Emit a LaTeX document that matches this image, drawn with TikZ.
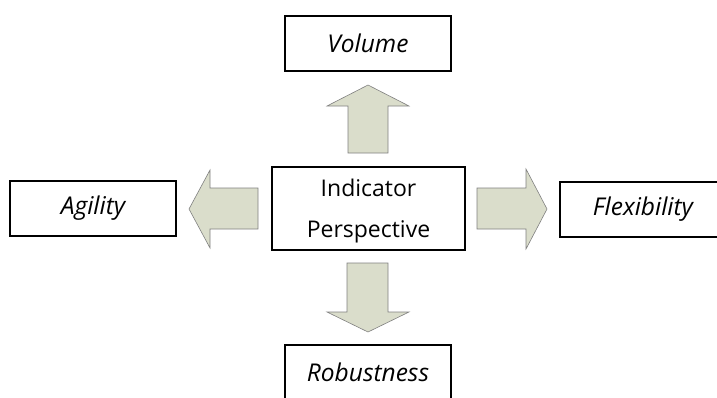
\documentclass[tikz,border=0pt]{standalone}
\usepackage{fontspec}
\setmainfont{Open Sans}
\begin{document}
\begin{tikzpicture}[x=1pt,y=-1pt,
  labelbox/.style={draw=black,line width=1.6pt,fill=white,minimum width=166pt,minimum height=55pt,inner sep=0pt,
    font=\fontsize{24.5}{28}\selectfont\itshape},
  blockarrow/.style={draw=black!50,line width=0.6pt,fill=arrowfill,line join=miter}]
\definecolor{arrowfill}{RGB}{218,221,203}
\useasboundingbox (0,0) rectangle (717,397);

% outer boxes
\node[labelbox] (volume) at (368,43.5) {Volume};
\node[labelbox] (agility) at (93,208.5) {Agility};
\node[labelbox] (flex) at (643,209.5) {Flexibility};
\node[labelbox] (robust) at (368,372.5) {Robustness};

% centre box
\node[draw=black,line width=1.6pt,minimum width=193pt,minimum height=83pt,inner sep=0pt,
  font=\fontsize{23}{41}\selectfont] (centre) at (368.5,208.5)
  {\raisebox{-5pt}{\begin{tabular}{@{}c@{}}Indicator\\Perspective\end{tabular}}};

% block arrows pointing outwards from the centre
\draw[blockarrow] (348,153) -- (348,106) -- (327,106) -- (368,85) -- (409,106) -- (388,106) -- (388,153) -- cycle;
\draw[blockarrow] (347,263) -- (347,312) -- (327,312) -- (368,332) -- (409,312) -- (388,312) -- (388,263) -- cycle;
\draw[blockarrow] (258,188) -- (210,188) -- (210,170) -- (189,209) -- (210,248) -- (210,229) -- (258,229) -- cycle;
\draw[blockarrow] (477,188) -- (526,188) -- (526,169) -- (547,209) -- (526,249) -- (526,229) -- (477,229) -- cycle;
\end{tikzpicture}
\end{document}
